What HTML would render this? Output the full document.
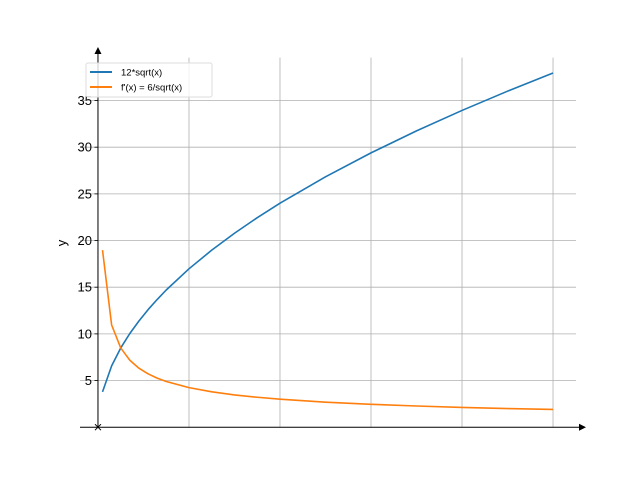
<!DOCTYPE html>
<html><head><meta charset="utf-8"><style>body{margin:0;background:#fff}svg{display:block;font-family:"Liberation Sans","DejaVu Sans",sans-serif}</style></head>
<body>
<svg id="chart" width="640" height="480" viewBox="0 0 640 480" xmlns="http://www.w3.org/2000/svg">
<defs></defs>
<g id="grid"></g>
<g id="series"></g>
<g id="axes"></g>
<g>
<rect x="86" y="63" width="126" height="34" rx="2" fill="#fff" fill-opacity="0.8" stroke="#ddd" stroke-width="1"/>
<line x1="90" y1="72" x2="112" y2="72" stroke="#1f77b4" stroke-width="2"/>
<text x="121" y="75.5" font-size="9.5">12*sqrt(x)</text>
<line x1="90" y1="87" x2="112" y2="87" stroke="#ff7f0e" stroke-width="2"/>
<text x="121" y="90.5" font-size="9.5">f'(x) = 6/sqrt(x)</text>
</g>
</svg>
<script>
const xValues = [0.1,0.3,0.5,0.7,0.9,1.1,1.3,1.5,2,2.5,3,3.5,4,5,6,7,8,9,10];
const sqrtValues = [3.79,6.57,8.49,10.04,11.38,12.59,13.68,14.70,16.97,18.97,20.78,22.45,24,26.83,29.39,31.75,33.94,36,37.95];
const derivValues = [18.97,10.95,8.49,7.17,6.32,5.72,5.26,4.90,4.24,3.79,3.46,3.21,3,2.68,2.45,2.27,2.12,2,1.90];
const xGrid = [2,4,6,8,10];
const yTicks = [5,10,15,20,25,30,35];
const yTickLabels = ["5","10","15","20","25","30","35"];

const NS="http://www.w3.org/2000/svg";
const L=80,R=576,T=57.6,B=427.2;
const xmin=-0.395,xmax=10.505,ymin=0,ymax=39.6;
const sx=v=>L+(v-xmin)/(xmax-xmin)*(R-L);
const sy=v=>B-(v-ymin)/(ymax-ymin)*(B-T);
function mk(tag,attrs,parent){const e=document.createElementNS(NS,tag);for(const k in attrs)e.setAttribute(k,attrs[k]);parent.appendChild(e);return e;}
const grid=document.getElementById('grid'),series=document.getElementById('series'),axes=document.getElementById('axes');
xGrid.forEach(v=>{const l=mk('line',{x1:sx(v),x2:sx(v),y1:T,y2:B,stroke:'#b0b0b0','stroke-width':0.8},grid);

});
yTicks.forEach((v,i)=>{const l=mk('line',{x1:L,x2:R,y1:sy(v),y2:sy(v),stroke:'#b0b0b0','stroke-width':0.8},grid);


const t=mk('line',{x1:sx(0)-3.5,x2:sx(0),y1:sy(v),y2:sy(v),stroke:'#000','stroke-width':0.8},axes);


const tx=mk('text',{x:sx(0)-6,y:sy(v)+4.5,'text-anchor':'end','font-size':'13'},axes);
tx.textContent=yTickLabels[i];

});
function line(vals,color,name){const d=xValues.map((x,i)=>(i?'L':'M')+sx(x).toFixed(2)+','+sy(vals[i]).toFixed(2)).join('');
const p=mk('path',{d:d,fill:'none',stroke:color,'stroke-width':1.6,'stroke-linejoin':'round'},series);

}
line(sqrtValues,'#1f77b4','sqrt-line');
line(derivValues,'#ff7f0e','derivative-line');
const ox=sx(0),oy=sy(0);
const xa=mk('line',{x1:L,x2:580,y1:oy,y2:oy,stroke:'#000','stroke-width':1},axes);


const xh=mk('path',{d:`M586,${oy} L579,${oy-3.5} L579,${oy+3.5}Z`,fill:'#000'},axes);


const ya=mk('line',{x1:ox,x2:ox,y1:B,y2:53,stroke:'#000','stroke-width':1},axes);


const yh=mk('path',{d:`M${ox},47 L${ox-3.5},54 L${ox+3.5},54Z`,fill:'#000'},axes);


const om=mk('path',{d:`M${ox-3},${oy-3}L${ox+3},${oy+3}M${ox-3},${oy+3}L${ox+3},${oy-3}`,stroke:'#000','stroke-width':1},axes);


const yl=mk('text',{x:0,y:0,transform:'translate(66,243) rotate(-90)','text-anchor':'middle','font-size':'13'},axes);
yl.textContent='y';


</script>
</body></html>
